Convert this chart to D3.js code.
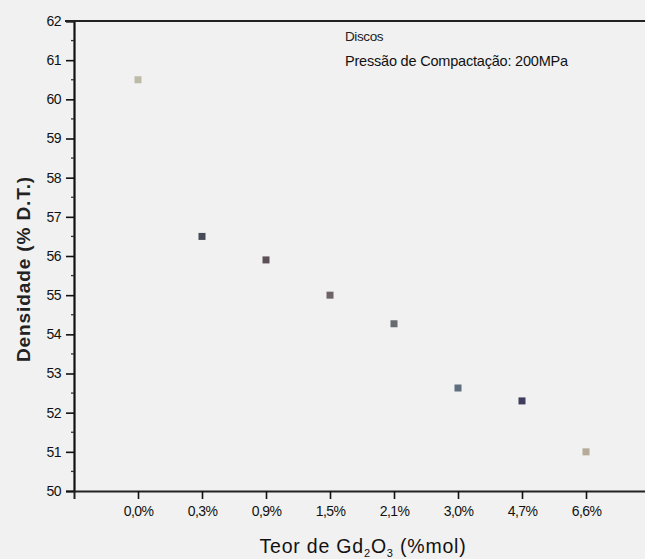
<!DOCTYPE html>
<html>
<head>
<meta charset="utf-8">
<script src="https://cdn.jsdelivr.net/npm/d3@7"></script>
<style>
body{margin:0;background:#f1f1f1;}
svg{display:block;font-family:Arial,"Liberation Sans",sans-serif;}
</style>
</head>
<body>
<svg id="chart"></svg>
<script>
// Densidade dos discos vs teor de Gd2O3
var categories=["0,0%","0,3%","0,9%","1,5%","2,1%","3,0%","4,7%","6,6%"]
var densidade=[60.5,56.5,55.9,55.0,54.27,52.63,52.3,51.0]
var pointColors=["#bdbaa8","#474b58","#5e5058","#6e6468","#676b70","#5f6e7e","#3e3d5e","#b5ab98"]
var yTicks=[50,51,52,53,54,55,56,57,58,59,60,61,62]

var screen={width:645,height:559}
var margins={top:21,right:-5,bottom:68,left:74}

var svg=d3.select("#chart")
	.attr("width",screen.width)
	.attr("height",screen.height)

var innerW=screen.width-margins.left-margins.right
var innerH=screen.height-margins.top-margins.bottom

var x=d3.scaleLinear().domain([0,9]).range([margins.left,margins.left+innerW])
var y=d3.scaleLinear().domain([50,62]).range([margins.top+innerH,margins.top])

// eixo y
var yAxis=svg.append("g")
	.attr("transform","translate("+margins.left+",0)")
	.call(d3.axisLeft(y).tickValues(yTicks).tickSize(8).tickPadding(5).tickFormat(d3.format("d")))
yAxis.select(".domain").attr("stroke","#111").attr("stroke-width",2.2)
yAxis.selectAll(".tick line").attr("stroke","#111").attr("stroke-width",1.6)
yAxis.selectAll(".tick text").attr("font-size",14).attr("fill","#111").attr("letter-spacing","-0.5")

// minor ticks
svg.append("g").selectAll("line")
	.data(d3.range(50.5,62,1))
	.enter().append("line")
	.attr("x1",margins.left-3).attr("x2",margins.left)
	.attr("y1",function(d){return y(d)}).attr("y2",function(d){return y(d)})
	.attr("stroke","#333").attr("stroke-width",1.3)

// linha do topo
svg.append("line")
	.attr("x1",margins.left-9).attr("x2",screen.width)
	.attr("y1",y(62)).attr("y2",y(62))
	.attr("stroke","#222").attr("stroke-width",2)

// eixo x
var xAxis=svg.append("g")
	.attr("transform","translate(0,"+y(50)+")")
	.call(d3.axisBottom(x).tickValues(d3.range(1,9)).tickSize(8).tickPadding(7)
		.tickFormat(function(d){return categories[d-1]}))
xAxis.select(".domain").attr("stroke","#222").attr("stroke-width",2)
xAxis.selectAll(".tick line").attr("stroke","#111").attr("stroke-width",1.6)
xAxis.selectAll(".tick text").attr("font-size",14).attr("fill","#111").attr("letter-spacing","-0.6")

// pontos
svg.append("g").selectAll("rect")
	.data(densidade)
	.enter().append("rect")
	.attr("x",function(d,i){return x(i+1)-3.5})
	.attr("y",function(d){return y(d)-3.5})
	.attr("width",7).attr("height",7)
	.attr("fill",function(d,i){return pointColors[i]})

// legenda
svg.append("text").attr("x",345).attr("y",41)
	.attr("font-size",13.5).attr("letter-spacing","-0.4").attr("fill","#222").text("Discos")
svg.append("text").attr("x",345).attr("y",66)
	.attr("font-size",14.5).attr("letter-spacing","-0.2").attr("fill","#111").text("Pressão de Compactação: 200MPa")

// titulos
svg.append("text")
	.attr("transform","translate(30,269) rotate(-90)")
	.attr("text-anchor","middle").attr("font-size",19).attr("font-weight","bold").attr("letter-spacing","0.9").attr("fill","#222")
	.text("Densidade (% D.T.)")

var xt=svg.append("text").attr("x",363).attr("y",553)
	.attr("text-anchor","middle").attr("font-size",19.5).attr("letter-spacing","0.8").attr("fill","#111")
xt.append("tspan").text("Teor de Gd")
xt.append("tspan").attr("font-size",11).attr("dy",4).text("2")
xt.append("tspan").attr("dy",-4).text("O")
xt.append("tspan").attr("font-size",11).attr("dy",4).text("3")
xt.append("tspan").attr("dy",-4).text(" (%mol)")
</script>
</body>
</html>
